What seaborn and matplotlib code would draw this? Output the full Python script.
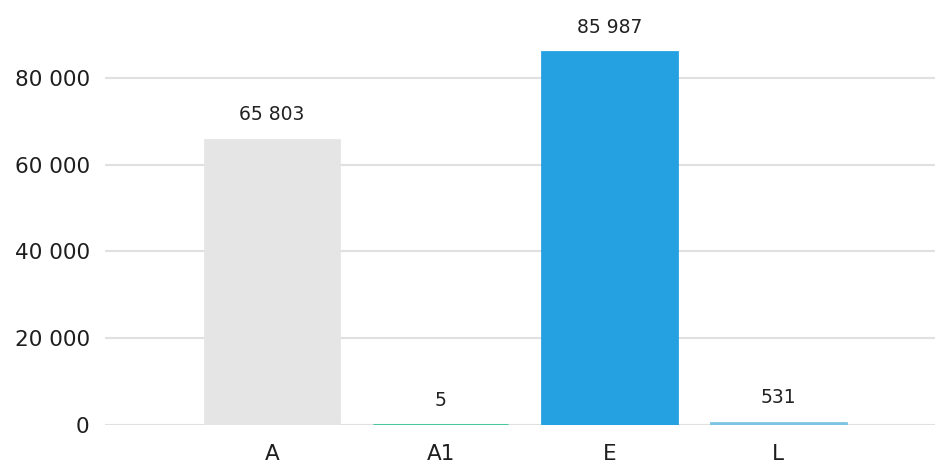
import matplotlib
matplotlib.use("Agg")
import matplotlib.pyplot as plt
import seaborn as sns
import pandas as pd
from matplotlib.ticker import FuncFormatter

categories = ["A", "A1", "E", "L"]
values = [65803, 5, 85987, 531]
colors = ["#e5e5e5", "#36c49a", "#25a0e0", "#7cc4e2"]
yticks = [0, 20000, 40000, 60000, 80000]

df = pd.DataFrame({"category": categories, "value": values})

sns.set_theme(style="white")
plt.rcParams["font.family"] = ["DejaVu Sans"]

fig = plt.figure(figsize=(9.35, 4.66), dpi=100)
ax = fig.add_axes([105 / 935, 41 / 466, 830 / 935, 425 / 466])

sns.barplot(data=df, x="category", y="value", hue="category",
            palette=dict(zip(categories, colors)), legend=False,
            width=0.8, ax=ax, saturation=1)

for patch, c in zip(ax.patches, colors):
    patch.set_edgecolor(c)
    patch.set_linewidth(2.0)

ax.set_xlim(-0.99, 3.93)
ax.set_ylim(0, 97980)
ax.set_yticks(yticks)
ax.yaxis.set_major_formatter(FuncFormatter(lambda v, p: f"{int(v):,}".replace(",", " ")))
ax.grid(axis="y", color="#e0e0e0", linewidth=1.5)
ax.set_axisbelow(True)
for s in ax.spines.values():
    s.set_visible(False)
ax.set_xlabel("")
ax.set_ylabel("")
ax.tick_params(axis="y", length=0, pad=11, labelsize=15.5, labelcolor="#1e1e1e")
ax.tick_params(axis="x", length=0, pad=14, labelsize=15.5, labelcolor="#1e1e1e")

for i, v in enumerate(values):
    ax.annotate(f"{v:,}".replace(",", " "), (i, v), xytext=(0, 11),
                textcoords="offset points", ha="center", va="bottom",
                fontsize=13.5, color="#222222", annotation_clip=False)

fig.savefig("out.png", dpi=100)
